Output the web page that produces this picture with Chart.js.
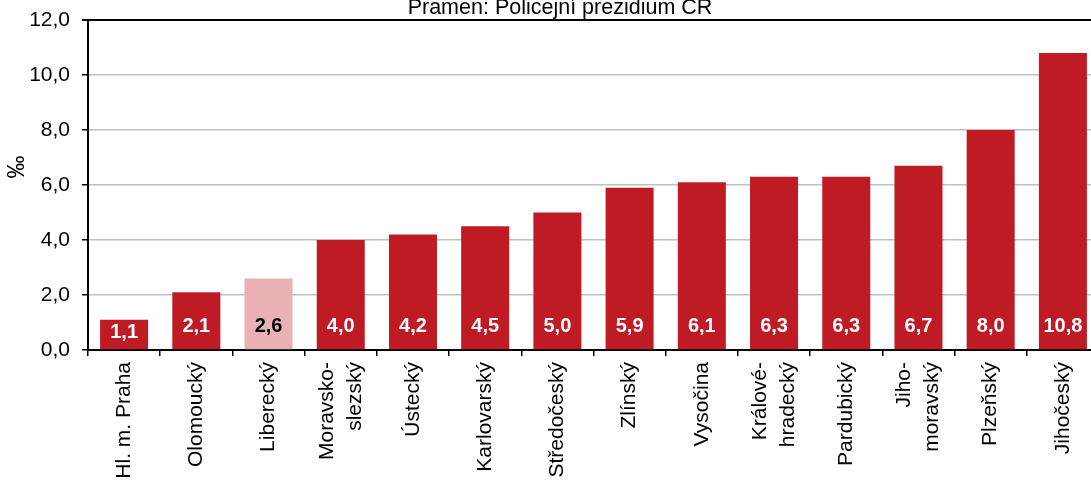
<!DOCTYPE html>
<html>
<head>
<meta charset="utf-8">
<script src="https://cdn.jsdelivr.net/npm/chart.js@4/dist/chart.umd.min.js"></script>
<style>
  html, body { margin: 0; padding: 0; background: #fff; overflow: hidden; }
  #wrap { width: 1099px; height: 481px; }
</style>
</head>
<body>
<div id="wrap"><canvas id="cv" width="1099" height="481"></canvas></div>
<script>
// data
const regions = [
  'Hl. m. Praha', 'Olomoucký', 'Liberecký', ['Moravsko-', 'slezský'], 'Ústecký',
  'Karlovarský', 'Středočeský', 'Zlínský', 'Vysočina', ['Králové-', 'hradecký'],
  'Pardubický', ['Jiho-', 'moravský'], 'Plzeňský', 'Jihočeský'
];
const rates = [1.1, 2.1, 2.6, 4.0, 4.2, 4.5, 5.0, 5.9, 6.1, 6.3, 6.3, 6.7, 8.0, 10.8];
const highlightIdx = 2;   // Liberecký
const yTicks = [0, 2, 4, 6, 8, 10, 12];

const FONT = '"Liberation Sans", Arial, Helvetica, sans-serif';
const RED = '#BE1B24';
const PINK = '#E8B1B3';
const fmt = v => Number(v).toFixed(1).replace('.', ',');

// value labels sitting at the foot of each bar
const barLabels = {
  id: 'barLabels',
  afterDatasetsDraw(chart) {
    const ctx = chart.ctx;
    const meta = chart.getDatasetMeta(0);
    ctx.save();
    ctx.font = 'bold 20px ' + FONT;
    ctx.textAlign = 'center';
    ctx.textBaseline = 'middle';
    meta.data.forEach((bar, i) => {
      const y = Math.max(bar.base - 23, bar.y + 13);
      ctx.fillStyle = i === highlightIdx ? '#000' : '#fff';
      ctx.fillText(fmt(rates[i]), bar.x, y);
    });
    ctx.restore();
  }
};

// rotated category names, multi-line ones centred on the category
const catLabels = {
  id: 'catLabels',
  afterDraw(chart) {
    const ctx = chart.ctx;
    const xs = chart.scales.x;
    const top = xs.top + 12;
    ctx.save();
    ctx.font = '21px ' + FONT;
    ctx.fillStyle = '#000';
    ctx.textAlign = 'right';
    ctx.textBaseline = 'middle';
    regions.forEach((lab, i) => {
      const lines = Array.isArray(lab) ? lab : [lab];
      const cx = xs.getPixelForTick(i);
      lines.forEach((ln, j) => {
        ctx.save();
        ctx.translate(cx + (j - (lines.length - 1) / 2) * 28, top);
        ctx.rotate(-Math.PI / 2);
        ctx.fillText(ln, 0, 0);
        ctx.restore();
      });
    });
    // axis unit
    ctx.save();
    ctx.font = '23px ' + FONT;
    ctx.textAlign = 'center';
    ctx.translate(18, 167);
    ctx.rotate(-Math.PI / 2);
    ctx.fillText('‰', 0, 0);
    ctx.restore();
    // source line, clipped at the top like the original
    ctx.font = '21.5px ' + FONT;
    ctx.textAlign = 'center';
    ctx.textBaseline = 'alphabetic';
    ctx.fillText('Pramen: Policejní prezidium ČR', 560, 14);
    ctx.restore();
  }
};

new Chart(document.getElementById('cv').getContext('2d'), {
  type: 'bar',
  data: {
    labels: regions,
    datasets: [{
      data: rates,
      backgroundColor: rates.map((_, i) => i === highlightIdx ? PINK : RED),
      borderWidth: 0,
      categoryPercentage: 1,
      barPercentage: 0.665
    }]
  },
  options: {
    responsive: false,
    animation: false,
    layout: { padding: { top: 20, right: 0, left: 0, bottom: 0 } },
    plugins: { legend: { display: false }, tooltip: { enabled: false }, title: { display: false } },
    scales: {
      x: {
        offset: true,
        grid: { display: true, drawOnChartArea: false, offset: true, tickLength: 6, tickColor: '#000', lineWidth: 1.5 },
        border: { display: true, color: '#000', width: 2 },
        ticks: { display: false },
        afterFit(s) { s.height = 131; s.paddingLeft = 0; s.paddingRight = 0; }
      },
      y: {
        min: 0, max: 12,
        afterBuildTicks(s) { s.ticks = yTicks.map(v => ({ value: v })); },
        grid: {
          color: c => c.tick && c.tick.value === 12 ? '#000' : (c.tick && c.tick.value === 0 ? 'rgba(0,0,0,0)' : '#C0C0C0'),
          lineWidth: c => c.tick && c.tick.value === 12 ? 2 : 1.5,
          tickColor: '#000', tickLength: 6
        },
        border: { display: true, color: '#000', width: 2 },
        ticks: { color: '#000', font: { size: 21, family: FONT }, padding: 12, callback: v => fmt(v) },
        afterFit(s) { s.width = 88; s.paddingTop = 0; s.paddingBottom = 0; }
      }
    }
  },
  plugins: [barLabels, catLabels]
});
</script>
</body>
</html>
